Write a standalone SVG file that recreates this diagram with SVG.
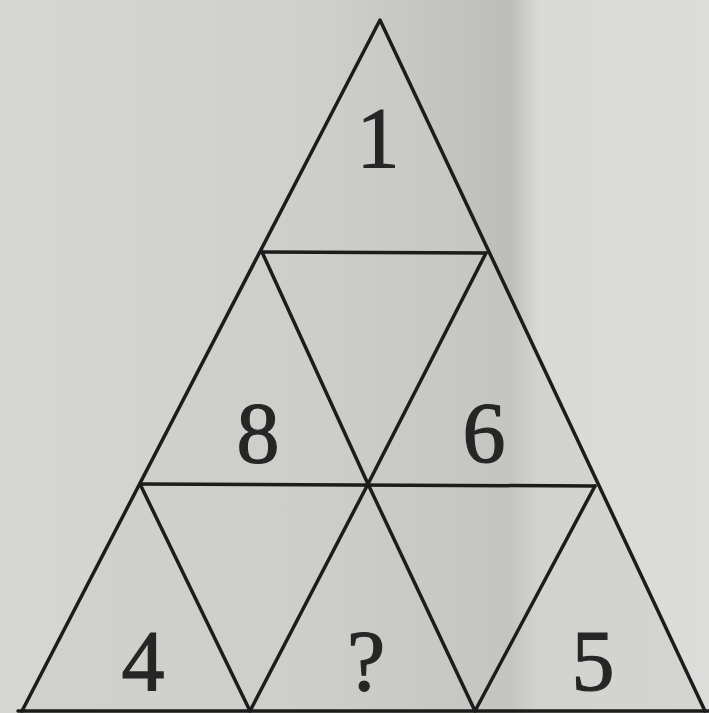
<svg xmlns="http://www.w3.org/2000/svg" width="709" height="713" viewBox="0 0 709 713">
<defs>
<linearGradient id="bg" x1="0" y1="0" x2="1" y2="0">
<stop offset="0" stop-color="#d6d6d2"/>
<stop offset="0.45" stop-color="#cfcfcb"/>
<stop offset="0.72" stop-color="#bdbdba"/>
<stop offset="0.76" stop-color="#d9d9d6"/>
<stop offset="1" stop-color="#dcdcda"/>
</linearGradient>
</defs>
<style>
.ln{stroke:#1c1c1c;stroke-width:3.5;fill:none;stroke-linecap:round;stroke-linejoin:round}
.num{font-family:"Liberation Serif","Times New Roman",serif;font-size:86px;fill:#262626;stroke:#262626;stroke-width:1.2;text-anchor:middle}
</style>
<rect width="709" height="713" fill="url(#bg)"/>
<polygon points="380,20 22,711 705,711" fill="#cbcbc7" opacity="0.5"/>
<g id="connectors" class="ln">
<polyline points="22,711 380,20 705,711"/>
<line x1="18" y1="711" x2="709" y2="711"/>
<line x1="262" y1="252" x2="486" y2="253"/>
<line x1="140" y1="484" x2="595" y2="486"/>
<polyline points="262,252 368,484 250,711 140,484"/>
<polyline points="486,253 368,484 475,711 595,486"/>
</g>
<g id="n1"><text class="num" x="378" y="167">1</text></g>
<g id="n8"><text class="num" x="258" y="462">8</text></g>
<g id="n6"><text class="num" x="484" y="462">6</text></g>
<g id="n4"><text class="num" x="143" y="690">4</text></g>
<g id="nq"><text class="num" x="366" y="690">?</text></g>
<g id="n5"><text class="num" x="593" y="690">5</text></g>
</svg>
